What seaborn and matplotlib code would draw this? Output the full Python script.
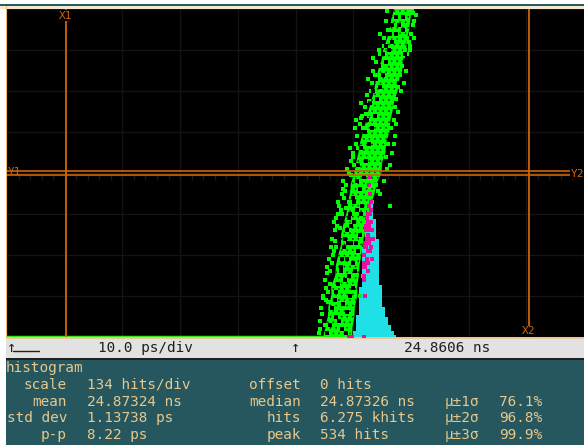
import numpy as np
import pandas as pd
import matplotlib
matplotlib.use("Agg")
import matplotlib.pyplot as plt
from matplotlib.patches import Rectangle
import seaborn as sns

# all times in ps from left edge of screen, levels in divisions from the bottom
hits_per_div = 134

# histogram
hist_edges = [60.0, 60.5, 61.0, 61.5, 62.0, 62.5, 63.0, 63.5, 64.0, 64.5, 65.0, 65.5, 66.0, 66.5, 67.0, 67.5]
hist_hits = [20, 72, 164, 294, 376, 474, 534, 386, 320, 170, 98, 66, 40, 20, 7]

# dense part of the eye crossing, edges read every quarter division
band_level = [0, 0.25, 0.5, 0.75, 1, 1.25, 1.5, 1.75, 2, 2.25, 2.5, 2.75, 3, 3.25, 3.5, 3.75, 4,
              4.25, 4.5, 4.75, 5, 5.25, 5.5, 5.75, 6, 6.25, 6.5, 6.75, 7, 7.25, 7.5, 7.75, 8]
band_left = [54.8, 55.2, 55.6, 55.7, 56.2, 56.2, 56.9, 57.0, 57.4, 57.9, 57.9, 58.3, 58.8, 59.1, 59.4, 59.6, 60.2,
             60.5, 60.9, 61.2, 61.7, 62.2, 62.6, 63.1, 63.6, 63.9, 64.3, 64.9, 65.2, 65.8, 66.3, 66.6, 67.1]
band_right = [59.8, 59.9, 60.2, 60.3, 60.7, 60.7, 61.0, 61.1, 61.4, 61.6, 62.0, 62.2, 62.8, 63.1, 63.7, 64.1, 64.9,
              65.0, 65.6, 65.7, 66.3, 66.4, 66.8, 67.1, 67.7, 67.9, 68.5, 68.6, 69.2, 69.3, 69.7, 69.9, 70.2]

# loose green dots outside the dense part
speck_ps = [54.0, 54.3, 54.5, 55.1, 54.8, 55.3, 55.6, 55.1, 55.4, 56.0, 55.8, 56.3, 56.6, 56.3, 56.8, 57.1,
            57.0, 57.4, 57.3, 57.8, 58.0, 58.4, 58.3, 58.8, 59.2, 59.6, 59.5, 60.0, 60.4, 60.7, 60.3, 61.1,
            61.5, 61.4, 62.0, 62.4, 62.6, 63.0, 63.4, 63.5, 63.9, 64.4, 64.7, 65.3, 65.6, 65.8,
            62.7, 63.2, 63.9, 64.3, 65.7, 66.0, 66.6, 67.0, 67.2, 67.3, 67.8, 68.2, 68.8, 69.2,
            69.4, 69.8, 70.1, 70.3, 70.4, 70.6, 64.7, 65.3, 65.9, 66.7, 61.1, 61.7, 66.4, 67.5, 68.5, 69.6,
            54.2, 54.6, 54.7, 55.3, 55.5, 55.7, 56.0, 56.2, 56.5, 56.7, 56.9, 57.2, 57.5, 57.7, 58.1, 58.2,
            58.5, 58.7, 59.0, 59.3, 59.7, 59.9, 60.2, 60.5, 60.8, 61.3, 61.7, 62.2, 62.8, 63.3, 63.7, 64.2,
            64.6, 65.0, 65.4, 66.0, 67.4, 67.7, 68.1, 68.6, 69.0, 69.3, 69.9, 70.5, 70.8, 66.3, 67.1, 70.2]
speck_div = [0.1, 0.4, 0.7, 0.3, 1.0, 0.9, 1.1, 1.4, 1.7, 1.3, 1.9, 1.8, 2.1, 2.4, 2.6, 2.2,
             2.9, 3.0, 3.3, 3.1, 3.5, 3.4, 3.8, 3.7, 4.0, 4.3, 4.6, 4.4, 4.7, 4.9, 5.1, 5.2,
             5.4, 5.7, 5.6, 5.9, 6.3, 6.0, 6.5, 6.8, 6.7, 7.0, 7.4, 7.3, 7.7, 7.95,
             3.05, 3.3, 3.7, 3.55, 4.4, 4.7, 5.1, 5.3, 5.6, 4.9, 5.5, 6.0, 6.2, 6.5,
             6.9, 7.1, 7.4, 7.6, 7.9, 7.7, 3.5, 3.8, 4.1, 4.5, 1.0, 1.5, 3.2, 5.8, 6.6, 7.2,
             0.2, 0.55, 0.95, 1.2, 1.55, 0.85, 1.6, 2.2, 2.0, 2.8, 2.35, 2.7, 3.2, 2.65, 3.0, 3.6,
             3.55, 3.15, 4.1, 3.3, 3.95, 4.5, 4.2, 5.3, 4.6, 5.35, 5.1, 5.45, 5.75, 6.2, 6.4, 6.3,
             6.9, 6.6, 7.1, 7.5, 5.2, 6.1, 6.4, 6.85, 7.0, 7.3, 7.0, 7.3, 7.85, 4.2, 4.7, 7.95]

# dark gaps between the hits inside the dense part
hole_ps = [56.0, 57.0, 58.0, 59.0, 56.8, 58.3, 59.4, 57.4, 58.6, 59.9, 57.9, 59.0, 60.3, 58.4, 59.7, 60.8,
           58.9, 60.1, 61.1, 59.4, 60.6, 61.6, 59.9, 61.1, 60.6, 61.8, 60.9, 62.3, 61.3, 62.8, 62.0, 63.3,
           62.4, 63.7, 62.9, 64.2, 63.4, 64.6, 64.0, 65.2, 64.5, 65.6, 65.1, 66.2, 65.7, 66.8, 66.3, 67.4,
           66.8, 68.0, 67.4, 68.6, 68.0, 69.0, 68.6,
           55.5, 56.4, 57.6, 58.8, 57.0, 57.9, 59.2, 58.0, 59.1, 60.0, 58.6, 59.6, 60.5, 59.2, 60.2, 61.4]
hole_div = [0.3, 0.5, 0.2, 0.6, 0.9, 0.8, 1.0, 1.3, 1.4, 1.2, 1.7, 1.9, 1.6, 2.2, 2.3, 2.1,
            2.6, 2.8, 2.5, 3.0, 3.1, 3.2, 3.4, 3.6, 3.8, 3.9, 4.2, 4.3, 4.6, 4.7, 5.0, 5.1,
            5.3, 5.4, 5.7, 5.8, 6.0, 6.1, 6.3, 6.4, 6.6, 6.7, 6.9, 7.0, 7.1, 7.2, 7.4, 7.4,
            7.6, 7.6, 7.8, 7.8, 6.2, 6.9, 7.5,
            0.1, 0.7, 0.4, 0.1, 1.1, 1.6, 1.5, 1.9, 2.3, 1.8, 2.4, 2.7, 2.3, 2.9, 3.3, 3.0]

# magenta dots over the histogram
magenta_ps = [62.9, 62.8, 62.9, 63.0, 62.7, 63.0, 62.6, 62.9, 62.4, 62.8, 62.5, 63.1, 62.3, 62.7, 62.9, 63.3,
              62.2, 62.6, 62.4, 63.0, 63.4, 62.1, 62.7, 62.3, 62.0, 63.1, 62.5, 62.9, 61.9, 62.4, 63.2, 61.9,
              62.2, 62.6, 61.8, 62.1, 62.6, 61.9, 61.9, 62.0, 61.9, 59.2, 59.5, 59.8]
magenta_div = [3.9, 3.7, 3.5, 3.3, 3.2, 3.1, 3.0, 3.0, 2.9, 2.8, 2.8, 2.8, 2.7, 2.7, 2.6, 2.6,
               2.6, 2.5, 2.4, 2.4, 2.4, 2.3, 2.3, 2.2, 2.2, 2.2, 2.1, 2.1, 2.0, 1.9, 1.9, 1.8,
               1.8, 1.8, 1.7, 1.7, 1.6, 1.5, 1.4, 1.0, 0.0, 0.0, 0.0, 0.0]

# zero line of the green trace, up to where the pink starts
baseline_ps = [0, 59]
baseline_div = [0, 0]

# cursors
x1_ps, x2_ps = 10.24, 90.45
y1_div, y2_div = 4.04, 3.96

# readout text
stat_labels = ["scale", "mean", "std dev", "p-p"]
stat_values = ["134 hits/div", "24.87324 ns", "1.13738 ps", "8.22 ps"]
stat_labels2 = ["offset", "median", "hits", "peak"]
stat_values2 = ["0 hits", "24.87326 ns", "6.275 khits", "534 hits"]
sigma_labels = ["μ±1σ", "μ±2σ", "μ±3σ"]
sigma_values = ["76.1%", "96.8%", "99.9%"]

sns.set_style("dark")
plt.rcParams["font.family"] = ["DejaVu Sans Mono"]
plt.rcParams["hatch.linewidth"] = 0.4

orange = "#d06408"
tan = "#e6c88c"
teal = "#26565e"
green = "#00ff00"

fig = plt.figure(figsize=(5.84, 4.45), dpi=100, facecolor="white")

# background panels in pixel coords
bg = fig.add_axes([0, 0, 1, 1])
bg.set_xlim(0, 584)
bg.set_ylim(445, 0)
bg.axis("off")
bg.add_patch(Rectangle((0, 4), 584, 1.5, color="#2b5a60", lw=0))
bg.add_patch(Rectangle((0, 5.5), 584, 3, color="#f4e8d4", lw=0))
bg.add_patch(Rectangle((5.5, 5.5), 1.5, 332, color="#eebb77", lw=0))
bg.add_patch(Rectangle((6, 337), 578, 2, color="#e8c898", lw=0))
bg.add_patch(Rectangle((6, 339), 578, 20, color="#e2e2e2", lw=0))
bg.add_patch(Rectangle((6, 358), 578, 1.5, color="#202020", lw=0))
bg.add_patch(Rectangle((6, 359.5), 578, 86, color=teal, lw=0))

fs = 10.4
bar_txt = "#202020"
bg.text(7, 347, "↑", fontsize=11, color=bar_txt, va="center")
bg.plot([13, 39], [351, 351], color=bar_txt, lw=1)
bg.text(98, 348, "10.0 ps/div", fontsize=fs, color=bar_txt, va="center")
bg.text(291, 347, "↑", fontsize=11, color=bar_txt, va="center")
bg.text(403.5, 348, "24.8606 ns", fontsize=fs, color=bar_txt, va="center")

bg.text(6, 368, "histogram", fontsize=fs, color=tan, va="center")
rows = [385, 402, 418, 435]
for r, lab, val, lab2, val2 in zip(rows, stat_labels, stat_values, stat_labels2, stat_values2):
    bg.text(67, r, lab, fontsize=fs, color=tan, va="center", ha="right")
    bg.text(87, r, val, fontsize=fs, color=tan, va="center")
    bg.text(301, r, lab2, fontsize=fs, color=tan, va="center", ha="right")
    bg.text(320, r, val2, fontsize=fs, color=tan, va="center")
for r, lab, val in zip(rows[1:], sigma_labels, sigma_values):
    bg.text(445, r, lab, fontsize=fs, color=tan, va="center")
    bg.text(499, r, val, fontsize=fs, color=tan, va="center")

# scope screen
ax = fig.add_axes([7 / 584, (445 - 337) / 445, 577 / 584, 328 / 445])
ax.set_facecolor("black")
ax.set_xlim(0, 100)
ax.set_ylim(0, 8)
ax.set_xticks(range(0, 101, 10))
ax.set_yticks(range(0, 9))
ax.set_xticklabels([])
ax.set_yticklabels([])
ax.tick_params(length=0)
ax.grid(True, color="#141414", lw=1)
ax.set_axisbelow(True)
for s in ax.spines.values():
    s.set_visible(False)

# small dim ticks along the centre line
ax.vlines(range(2, 100, 2), 3.82, 3.96, color="#1a1a1a", lw=1, zorder=1)

# histogram first, the trace is drawn over it
weights = [h / hits_per_div for h in hist_hits]
centres = [(a + b) / 2 for a, b in zip(hist_edges[:-1], hist_edges[1:])]
sns.histplot(x=centres, weights=weights, bins=hist_edges, element="step", fill=True,
             color="#1ee0e6", alpha=1, linewidth=0, ax=ax, zorder=2)
ax.set_ylabel("")
ax.set_ylim(0, 8)
ax.set_xlim(0, 100)

sns.lineplot(x=baseline_ps, y=baseline_div, color="#30e818", lw=2.5, ax=ax, zorder=3, legend=False)

ax.fill_betweenx(band_level, band_left, band_right, facecolor=green, edgecolor="none", lw=0, zorder=3)
ax.fill_betweenx(band_level, band_left, band_right, facecolor="none", edgecolor="#003000",
                 hatch="...", lw=0, zorder=3)
sns.scatterplot(x=speck_ps, y=speck_div, marker="s", s=6, color=green, linewidth=0, ax=ax, zorder=3, legend=False)
sns.scatterplot(x=hole_ps, y=hole_div, marker="s", s=5, color="black", linewidth=0, ax=ax, zorder=3, legend=False)
sns.scatterplot(x=magenta_ps, y=magenta_div, marker="s", s=5, color="#e8109c", linewidth=0, ax=ax, zorder=4, legend=False)

# cursors
ax.axvline(x1_ps, color=orange, lw=1.3, zorder=5)
ax.axvline(x2_ps, color=orange, lw=1.3, zorder=5)
ax.axhline(y1_div, color=orange, lw=1.2, zorder=5)
ax.axhline(y2_div, color=orange, lw=1.2, zorder=5)
ax.text(x1_ps, 7.84, "X1", color=orange, fontsize=8, ha="center", va="center", zorder=6,
        bbox=dict(facecolor="black", edgecolor="none", pad=0.5))
ax.text(x2_ps, 0.14, "X2", color=orange, fontsize=8, ha="center", va="center", zorder=6,
        bbox=dict(facecolor="black", edgecolor="none", pad=0.5))
ax.text(0.2, 4.03, "Y1", color=orange, fontsize=8, ha="left", va="center", zorder=6)
ax.text(100, 3.98, "Y2", color=orange, fontsize=8, ha="right", va="center", zorder=6,
        bbox=dict(facecolor="black", edgecolor="none", pad=0.3))

fig.savefig("out.png", dpi=100)
